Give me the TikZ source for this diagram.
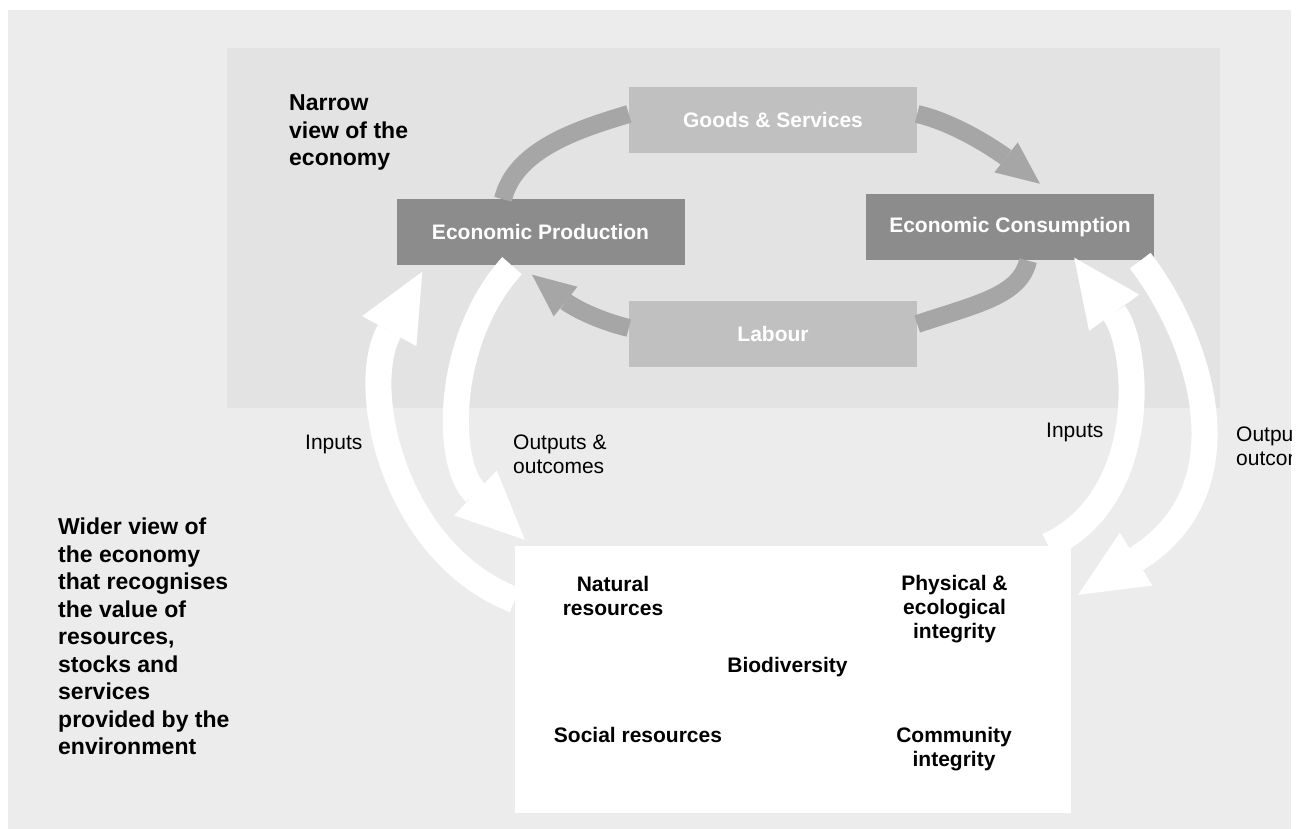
\documentclass[tikz,border=0pt]{standalone}
\usepackage{fontspec}
\setmainfont{Liberation Sans}
\usetikzlibrary{arrows.meta}

\definecolor{outerbg}{HTML}{ECECEC}
\definecolor{panelbg}{HTML}{E3E3E3}
\definecolor{ringgrey}{HTML}{A6A6A6}
\definecolor{boxlight}{HTML}{BFC0BF}
\definecolor{boxdark}{HTML}{8C8C8C}

\tikzset{
  box/.style={shape=rectangle,minimum width=288pt,minimum height=66pt,inner sep=0pt,
    text=white,font=\bfseries\fontsize{21}{24}\selectfont},
  lightbox/.style={box,fill=boxlight},
  darkbox/.style={box,fill=boxdark},
  envbox/.style={shape=rectangle,fill=white,minimum width=556pt,minimum height=267pt,inner sep=0pt},
  ring/.style={draw=ringgrey,line width=18pt},
  ringtip/.style={ring,-{Triangle[length=43pt,width=38pt,line width=0pt]}},
  flow/.style={draw=white,line width=26pt,-{Triangle[length=68pt,width=62pt,line width=0pt]}},
  sidelabel/.style={anchor=base west,align=left,inner sep=0pt,font=\bfseries\fontsize{23}{27.5}\selectfont},
  flowlabel/.style={anchor=base west,align=left,inner sep=0pt,font=\fontsize{21}{24}\selectfont},
  envlabel/.style={anchor=base,align=center,inner sep=0pt,font=\bfseries\fontsize{21}{24}\selectfont}
}

\begin{document}
\begin{tikzpicture}[x=1pt,y=1pt]
    \useasboundingbox (0,0) rectangle (1303,829);
    \fill[outerbg] (8,0) rectangle (1291,819);
    \fill[panelbg] (227,421) rectangle (1220,781);

    \node[lightbox] (GS) at (773,709) {Goods \& Services};
    \node[lightbox] (LB) at (773,495) {Labour};
    \node[darkbox] (EP) at (540.5,596.5) {Economic Production};
    \node[darkbox] (EC) at (1010,601.5) {Economic Consumption};
    \node[envbox] (ENV) at (793,149.5) {};

    % narrow loop
    \draw[ring] ([xshift=-37.5pt]EP.north) .. controls +(12,50) and +(-50,-15) .. ([yshift=6pt]GS.west);
    \draw[ringtip] ([yshift=6pt]GS.east) .. controls +(43,-10) and +(-36,28) .. ([xshift=30pt,yshift=10.5pt]EC.north);
    \draw[ring] ([xshift=18pt]EC.south) .. controls +(-8,-35) and +(60,20) .. ([yshift=10pt]LB.east);
    \draw[ringtip] ([yshift=6pt]LB.west) .. controls +(-40,10) and +(35,-28) .. ([xshift=-8.5pt,yshift=-9pt]EP.south);

    % wider loop
    \draw[flow] ([yshift=79.5pt]ENV.west) .. controls +(-120,46) and +(-65,-117) .. ([xshift=26pt,yshift=-6pt]EP.south west);
    \draw[flow] ([xshift=-28.5pt]EP.south) .. controls +(-67,-74) and +(-80,76) .. ([xshift=10pt,yshift=6pt]ENV.north west);
    \draw[flow] ([xshift=-23pt]ENV.north east) .. controls +(102,47) and +(66,-91) .. ([xshift=-80pt,yshift=3pt]EC.south east);
    \draw[flow] ([xshift=-14pt]EC.south east) .. controls +(60,-78) and +(172,106) .. ([xshift=7pt,yshift=-49pt]ENV.north east);

    % the base of a label is its last line
    \node[sidelabel] (narrow) at (289,663) {Narrow\\view of the\\economy};
    \node[sidelabel] (wider) at (58,74) {Wider view of\\the economy\\that recognises\\the value of\\resources,\\stocks and\\services\\provided by the\\environment};

    \node[flowlabel] (inL) at (305,379) {Inputs};
    \node[flowlabel] (outL) at (513,355) {Outputs \&\\outcomes};
    \node[flowlabel] (inR) at (1046,391) {Inputs};
    \begin{scope}
        \clip (8,0) rectangle (1291,819);
        \node[flowlabel] (outR) at (1236,363) {Outputs \&\\outcomes};
    \end{scope}

    \node[envlabel] (nat) at (613,213) {Natural\\resources};
    \node[envlabel] (phys) at (954.5,190) {Physical \&\\ecological\\integrity};
    \node[envlabel] (bio) at (787.5,156) {Biodiversity};
    \node[envlabel] (soc) at (638,86) {Social resources};
    \node[envlabel] (comm) at (954,62) {Community\\integrity};
\end{tikzpicture}
\end{document}
